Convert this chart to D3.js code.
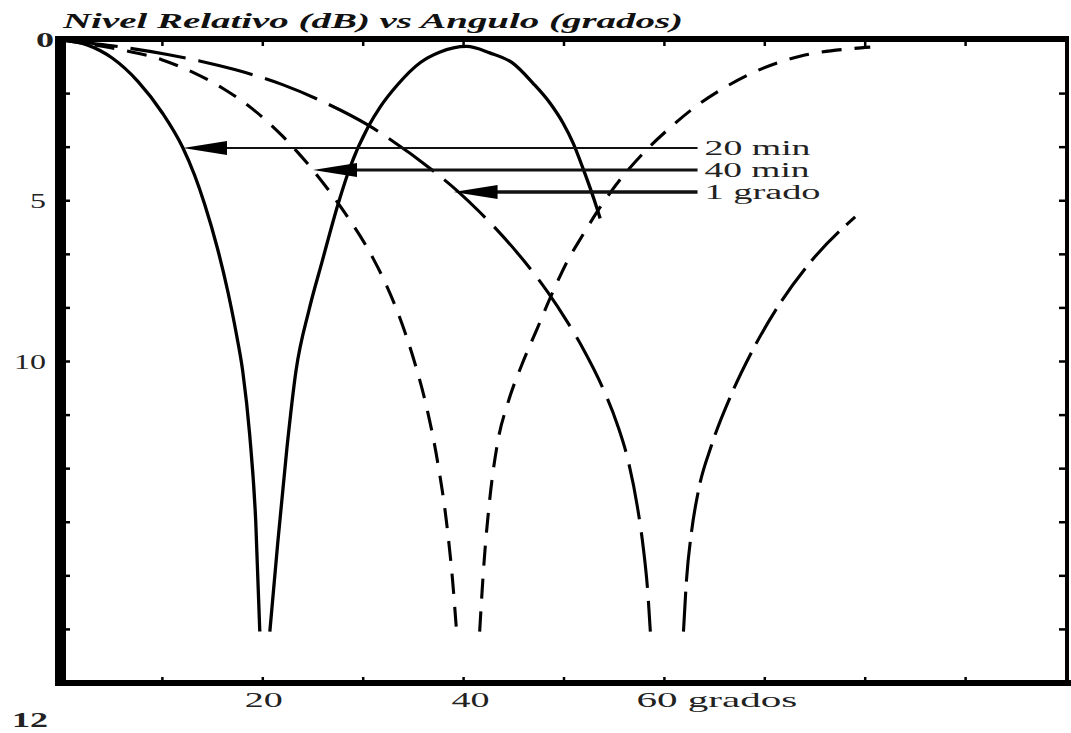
<!DOCTYPE html>
<html><head><meta charset="utf-8">
<script src="https://cdn.jsdelivr.net/npm/d3@7"></script>
<style>html,body{margin:0;padding:0;background:#fff;overflow:hidden}svg{display:block}</style>
</head><body><svg id="c" width="1071" height="733"></svg>
<script>
// ---------- data ----------
const titleText = "Nivel Relativo (dB) vs Angulo (grados)";
const xTickValues = [10, 20, 30, 40, 50, 60, 70, 80, 90];
const xLabelValues = [20, 40, 60];
const xLabelTexts = ["20", "40", "60 grados"];
const yTickValues = [0, 1.667, 3.333, 5, 6.667, 8.333, 10, 11.667, 13.333, 15, 16.667, 18.333, 20];
const yLabelValues = [0, 5, 10];
const yLabelTexts = ["0", "5", "10"];
const strayLabel = "12";

// 20 min (solid)
const min20Angle1 = [0, 2.5, 5.0, 7.6, 10.0, 12.0, 13.2, 14.2, 15.5, 16.5, 17.4, 18.0, 18.7, 19.3, 19.7];
const min20Level1 = [0, 0.15, 0.56, 1.3, 2.27, 3.33, 4.2, 5.1, 6.5, 7.8, 9.2, 10.3, 12.3, 15.0, 18.4];
const min20Angle2 = [20.7, 21.5, 22.4, 23.3, 24.6, 25.9, 27.5, 28.7, 30.5, 31.7, 33.4, 35.7, 37.6, 40.3, 42.6, 44.9, 46.9, 48.6, 49.9, 50.9, 51.9, 52.6, 53.3, 53.6];
const min20Level2 = [18.4, 15.6, 12.7, 10.3, 8.4, 6.9, 5.1, 3.95, 2.7, 2.08, 1.4, 0.7, 0.38, 0.2, 0.40, 0.72, 1.34, 1.96, 2.58, 3.2, 4.0, 4.6, 5.25, 5.55];

// 40 min (short dash)
const min40Angle1 = [0, 5, 10, 13, 16, 19, 22, 25, 28, 31, 32.2, 33.6, 35, 36.3, 37.4, 38.3, 38.9, 39.3];
const min40Level1 = [0, 0.25, 0.62, 1.0, 1.5, 2.15, 3.0, 4.05, 5.3, 6.8, 7.55, 8.6, 9.9, 11.4, 13.1, 15.0, 16.8, 18.4];
const min40Angle2 = [41.6, 42.0, 42.6, 43.4, 44.4, 45.8, 47.3, 48.8, 50.3, 51.9, 53.6, 55.7, 57.8, 60.3, 62.9, 66.1, 69.5, 73.6, 78.6, 80.5];
const min40Level2 = [18.4, 16.4, 14.3, 12.5, 11.3, 10.1, 9.0, 7.9, 6.9, 6.05, 5.2, 4.3, 3.55, 2.8, 2.12, 1.46, 0.92, 0.5, 0.27, 0.22];

// 1 grado (long dash)
const deg1Angle1 = [0, 5, 10.5, 13.7, 17.2, 21.9, 26.2, 30.5, 32.5, 36.9, 39.4, 41.6, 43.6, 45.3, 47.1, 48.4, 50.3, 51.9, 53.9, 55.3, 56.4, 57.3, 57.9, 58.3, 58.6];
const deg1Level1 = [0, 0.18, 0.45, 0.65, 0.92, 1.38, 1.95, 2.65, 3.05, 4.05, 4.7, 5.35, 6.0, 6.6, 7.3, 7.85, 8.75, 9.6, 10.85, 11.95, 13.1, 14.5, 15.8, 17.0, 18.4];
const deg1Angle2 = [61.9, 62.2, 62.7, 63.4, 64.7, 66.7, 68.7, 71.5, 74.7, 79.0];
const deg1Level2 = [18.4, 16.8, 15.3, 14.0, 12.6, 11.0, 9.7, 8.2, 6.85, 5.5];

// annotations
const annLabels = ["20 min", "40 min", "1 grado"];
const annTipAngle = [12.05, 25.0, 39.0];
const annLevel = [3.36, 4.04, 4.73];
const annEndAngle = [63.3, 63.3, 63.3];

// ---------- drawing ----------
const svg = d3.select("#c");
const x = d3.scaleLinear([0, 100], [62, 1066]);
const y = d3.scaleLinear([0, 20], [40, 683]);
const FONT = "'Liberation Serif','Times New Roman',serif";

// title
svg.append("text").attr("x", 63).attr("y", 28)
  .attr("font-family", FONT).attr("font-size", 21).attr("font-weight", "bold").attr("font-style", "italic")
  .attr("textLength", 620).attr("lengthAdjust", "spacingAndGlyphs").attr("fill", "#111")
  .text(titleText);

// frame
const g = svg.append("g");
const [x0, x1] = x.range(), [y0, y1] = y.range();
g.append("rect").attr("x", x0 - 7).attr("y", y0 - 4).attr("width", 11).attr("height", y1 - y0 + 7).attr("fill", "#000");
g.append("rect").attr("x", x0 - 7).attr("y", y0 - 4).attr("width", x1 - x0 + 10).attr("height", 6).attr("fill", "#000");
g.append("rect").attr("x", x0 - 7).attr("y", y1 - 3).attr("width", x1 - x0 + 12).attr("height", 6).attr("fill", "#000");
g.append("rect").attr("x", x1 - 1).attr("y", y0 - 4).attr("width", 4).attr("height", y1 - y0 + 7).attr("fill", "#000");

// ticks
xTickValues.forEach(v => {
  g.append("line").attr("x1", x(v)).attr("x2", x(v)).attr("y1", y0).attr("y2", y0 + 6).attr("stroke", "#000").attr("stroke-width", 2.5);
  g.append("line").attr("x1", x(v)).attr("x2", x(v)).attr("y1", y1).attr("y2", y1 - 6).attr("stroke", "#000").attr("stroke-width", 2.5);
});
yTickValues.slice(1, -1).forEach(v => {
  g.append("line").attr("x1", x0).attr("x2", x0 + 8).attr("y1", y(v)).attr("y2", y(v)).attr("stroke", "#000").attr("stroke-width", 2.5);
  g.append("line").attr("x1", x1).attr("x2", x1 - 7).attr("y1", y(v)).attr("y2", y(v)).attr("stroke", "#000").attr("stroke-width", 2.5);
});

// tick labels
const lblW = {"0": 18, "5": 16, "10": 32, "12": 36, "20": 38, "40": 38, "60 grados": 161};
const yLblRight = {"0": 54, "5": 46, "10": 46};
yLabelValues.forEach((v, i) => {
  const t = yLabelTexts[i];
  svg.append("text").attr("x", yLblRight[t] - lblW[t]).attr("y", y(v) + 7)
    .attr("font-family", FONT).attr("font-size", 21).attr("fill", "#222")
    .attr("font-weight", i === 0 ? "bold" : "normal")
    .attr("textLength", lblW[t]).attr("lengthAdjust", "spacingAndGlyphs").text(t);
});
svg.append("text").attr("x", 12).attr("y", 727)
  .attr("font-family", FONT).attr("font-size", 20).attr("font-weight", "bold").attr("fill", "#222")
  .attr("textLength", lblW[strayLabel]).attr("lengthAdjust", "spacingAndGlyphs").text(strayLabel);
const xLblShift = [-18, -12, -28];
xLabelValues.forEach((v, i) => {
  const t = xLabelTexts[i];
  svg.append("text").attr("x", x(v) + xLblShift[i]).attr("y", 707)
    .attr("font-family", FONT).attr("font-size", 21).attr("fill", "#222")
    .attr("textLength", lblW[t]).attr("lengthAdjust", "spacingAndGlyphs").text(t);
});

// curves
const line = d3.line().x(d => x(d[0])).y(d => y(d[1])).curve(d3.curveMonotoneX);
const zip = (a, b) => a.map((v, i) => [v, b[i]]);
const series = [
  {a: min20Angle1, l: min20Level1, dash: null, w: 3.3},
  {a: min20Angle2, l: min20Level2, dash: null, w: 3.3},
  {a: min40Angle1, l: min40Level1, dash: "20,13", w: 3.1},
  {a: min40Angle2, l: min40Level2, dash: "20,13", w: 3.1},
  {a: deg1Angle1, l: deg1Level1, dash: "56,13", w: 3.1},
  {a: deg1Angle2, l: deg1Level2, dash: "40,10", w: 3.1}
];
series.forEach(s => {
  svg.append("path").attr("d", line(zip(s.a, s.l))).attr("fill", "none")
    .attr("stroke", "#000").attr("stroke-width", s.w)
    .attr("stroke-dasharray", s.dash);
});

// annotations
const lineW = [2, 3, 3.5];
annLabels.forEach((t, i) => {
  const tx = x(annTipAngle[i]), ty = y(annLevel[i]);
  const ex = x(annEndAngle[i]);
  svg.append("line").attr("x1", tx + 40).attr("x2", ex).attr("y1", ty).attr("y2", ty)
    .attr("stroke", "#111").attr("stroke-width", lineW[i]);
  svg.append("path").attr("d", `M${tx},${ty} L${tx + 44},${ty - 7} L${tx + 44},${ty + 7} Z`).attr("fill", "#000");
  svg.append("text").attr("x", ex + 7).attr("y", ty + 7)
    .attr("font-family", FONT).attr("font-size", 20).attr("fill", "#222")
    .attr("textLength", [106, 105, 116][i]).attr("lengthAdjust", "spacingAndGlyphs").text(t);
});
</script></body></html>
